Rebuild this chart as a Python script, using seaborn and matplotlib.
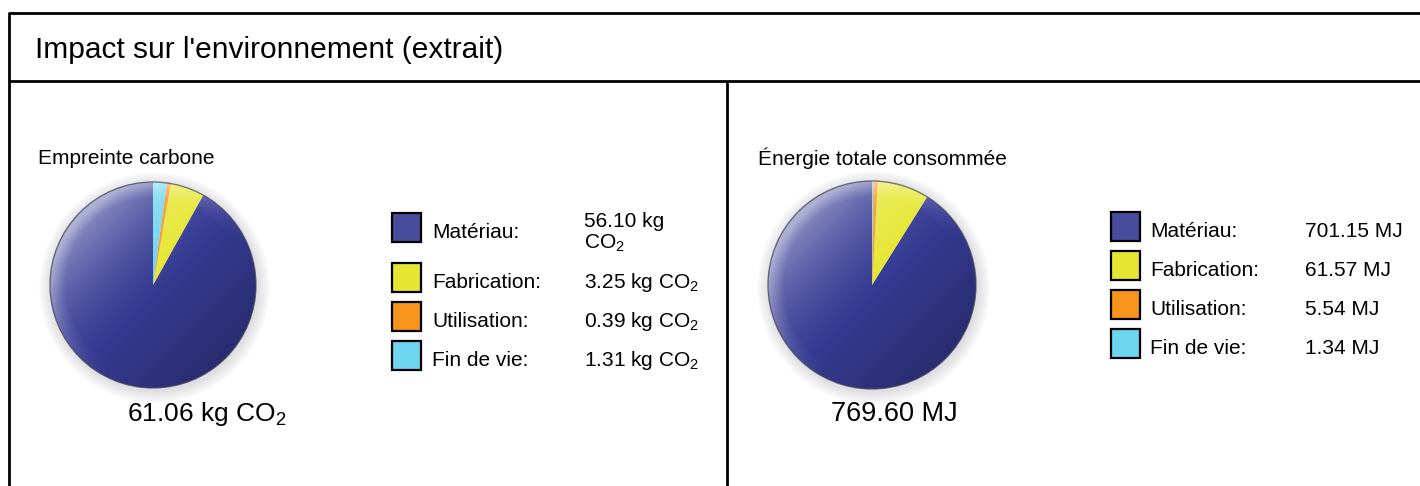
import numpy as np
import matplotlib
matplotlib.use("Agg")
import matplotlib.pyplot as plt
from matplotlib.patches import Rectangle, Circle
import seaborn as sns

# ---- data -------------------------------------------------------------
categories = ["Matériau", "Fabrication", "Utilisation", "Fin de vie"]
carbon_kg = [56.10, 3.25, 0.39, 1.31]
energy_mj = [701.15, 61.57, 5.54, 1.34]
carbon_total = 61.06
energy_total = 769.60

title = "Impact sur l'environnement (extrait)"
panel_titles = ["Empreinte carbone", "Énergie totale consommée"]
palette = ["#363B94", "#E6E632", "#F7941D", "#6DD5EE"]
legend_palette = ["#474C9C", "#E6E632", "#F7941D", "#6DD5EE"]

# ---- style --------------------------------------------------------------
sns.set_theme(style="white")
plt.rcParams["font.family"] = ["Liberation Sans", "DejaVu Sans"]
plt.rcParams["mathtext.default"] = "regular"
plt.rcParams["text.color"] = "black"

W, H = 1420, 486
fig = plt.figure(figsize=(W / 100, H / 100), dpi=100)
frame = fig.add_axes([0, 0, 1, 1])
frame.set_xlim(0, W)
frame.set_ylim(H, 0)
frame.axis("off")

# ---- frame lines --------------------------------------------------------
lw = 2.0
frame.plot([9, W], [13, 13], color="black", lw=lw, solid_capstyle="butt")
frame.plot([9, W], [81, 81], color="black", lw=lw, solid_capstyle="butt")
frame.plot([9, 9], [12, H], color="black", lw=lw, solid_capstyle="butt")
frame.plot([727, 727], [81, H], color="black", lw=lw, solid_capstyle="butt")

frame.text(35, 50, title, fontsize=21.5, va="center", ha="left")


def glossy_pie(cx, cy, r, values):
    ax = fig.add_axes([(cx - r * 1.15) / W, 1 - (cy + r * 1.15) / H,
                       2 * r * 1.15 / W, 2 * r * 1.15 / H])
    ax.set_facecolor("none")
    # soft halo behind the disc
    for k in range(10):
        rr = 1.0 + 0.012 * (k + 1)
        ax.add_patch(Circle((0.015, -0.025), rr, color="#9a9aa8",
                            alpha=0.03, lw=0, zorder=0))
    ax.pie(values, colors=palette, startangle=90, counterclock=True,
           radius=1.0, wedgeprops=dict(linewidth=0, zorder=1))
    # shading overlay clipped to the disc
    n = 300
    xs = np.linspace(-1, 1, n)
    X, Y = np.meshgrid(xs, xs[::-1])
    s = (-X + Y) / np.sqrt(2)
    rad = np.sqrt(X ** 2 + Y ** 2)
    light = 0.45 * np.clip((s + 0.1) / 1.1, 0, 1) ** 1.5
    rim = 0.25 * np.clip((rad - 0.85) / 0.15, 0, 1) * np.clip((s + 0.3), 0, 1)
    dark = 0.25 * np.clip(-s, 0, 1)
    hi = np.zeros((n, n, 4))
    hi[..., :3] = 1.0
    hi[..., 3] = np.clip(light + rim, 0, 0.6)
    im = ax.imshow(hi, extent=(-1, 1, -1, 1), zorder=2, interpolation="bilinear")
    im.set_clip_path(Circle((0, 0), 1.0, transform=ax.transData))
    sh = np.zeros((n, n, 4))
    sh[..., 3] = dark
    im2 = ax.imshow(sh, extent=(-1, 1, -1, 1), zorder=2, interpolation="bilinear")
    im2.set_clip_path(Circle((0, 0), 1.0, transform=ax.transData))
    ax.add_patch(Circle((0, 0), 1.0, fill=False, ec="#444455", lw=1.0,
                        alpha=0.7, zorder=3))
    ax.set_xlim(-1.15, 1.15)
    ax.set_ylim(-1.15, 1.15)
    ax.set_aspect("equal")
    ax.axis("off")
    return ax


glossy_pie(153, 285, 103, carbon_kg)
glossy_pie(872, 285, 104, energy_mj)

# ---- panel titles and totals -------------------------------------------
frame.text(38, 158, panel_titles[0], fontsize=15, va="center", ha="left")
frame.text(758, 158, panel_titles[1], fontsize=15, va="center", ha="left")
frame.text(127, 421, f"{carbon_total:.2f} kg CO$_2$", fontsize=19,
           va="baseline", ha="left")
frame.text(831, 421, f"{energy_total:.2f} MJ", fontsize=19.5,
           va="baseline", ha="left")


# ---- legends ------------------------------------------------------------
def legend(box_x, label_x, value_x, tops, values, unit_fmt, wrap_first):
    for i, (cat, v) in enumerate(zip(categories, values)):
        top = tops[i]
        frame.add_patch(Rectangle((box_x, top), 29, 29,
                                  facecolor=legend_palette[i],
                                  edgecolor="black", lw=1.6))
        frame.text(label_x, top + 25, f"{cat}:", fontsize=15, va="baseline",
                   ha="left")
        if i == 0 and wrap_first:
            head, tail = unit_fmt(v).split("|")
            frame.text(value_x, top + 14, head, fontsize=15, va="baseline",
                       ha="left")
            frame.text(value_x, top + 36, tail, fontsize=15, va="baseline",
                       ha="left")
        else:
            frame.text(value_x, top + 25, unit_fmt(v).replace("|", " "),
                       fontsize=15, va="baseline", ha="left")


legend(392, 432, 584, [213, 263, 302, 341], carbon_kg,
       lambda v: f"{v:.2f} kg|CO$_2$", True)
legend(1111, 1150, 1305, [212, 251, 290, 329], energy_mj,
       lambda v: f"{v:.2f}|MJ", False)

fig.savefig("out.png", dpi=100)
